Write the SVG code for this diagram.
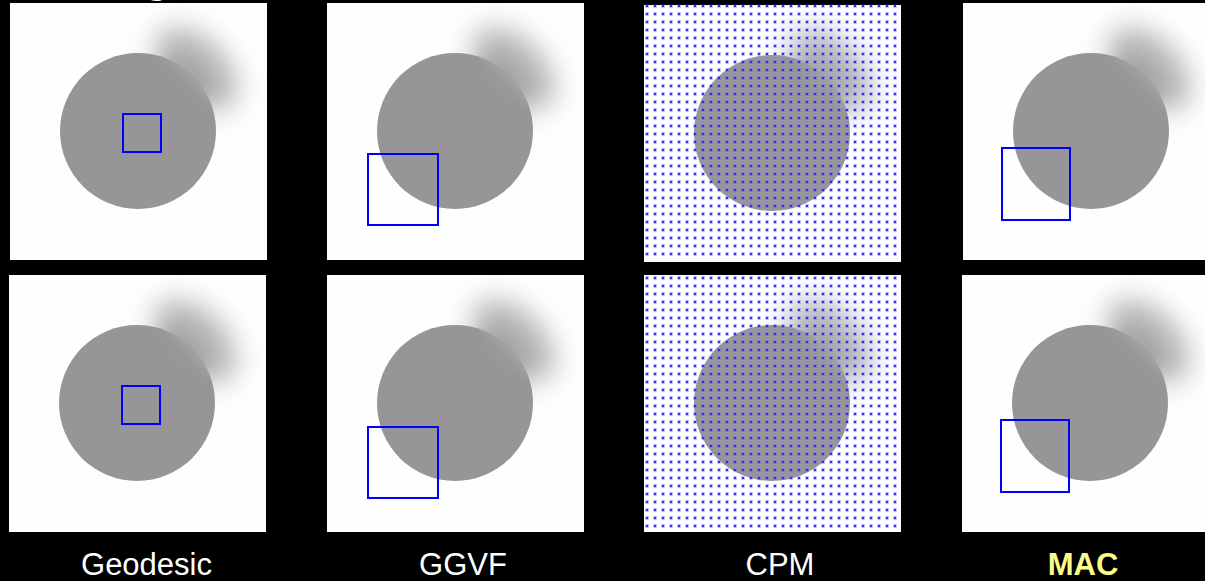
<svg xmlns="http://www.w3.org/2000/svg" xmlns:xlink="http://www.w3.org/1999/xlink" width="1205" height="581" viewBox="0 0 1205 581">
  <style>
    .label { font-family: "Liberation Sans", Arial, sans-serif; font-size: 31px; fill: #ffffff; text-anchor: middle; }
    .hl { font-weight: bold; fill: #fbfb8c; }
    .box { fill: none; stroke: #0000ff; stroke-width: 2; }
    .sheet { fill: #fdfefd; }
    .disk { fill: #979597; }
  </style>
  <defs>
    <filter id="soft" x="-1" y="-1" width="3" height="3">
      <feGaussianBlur stdDeviation="14"/>
    </filter>
    <filter id="softEdge" x="-1" y="-1" width="3" height="3">
      <feGaussianBlur stdDeviation="8"/>
    </filter>
    <!-- fades the crisp disk edge out toward the upper right -->
    <mask id="fadeMask" maskUnits="userSpaceOnUse" x="0" y="0" width="257" height="257">
      <rect width="257" height="257" fill="#fff"/>
      <ellipse cx="200" cy="54" rx="48" ry="30" transform="rotate(45 200 54)" fill="#000" filter="url(#softEdge)"/>
    </mask>
    <!-- 8px grid of blue sample points -->
    <pattern id="dots" patternUnits="userSpaceOnUse" x="9" y="9" width="8" height="8">
      <rect x="0" y="0" width="4" height="4" fill="#4a4aff" opacity="0.3"/>
      <rect x="1" y="1" width="2" height="2" fill="#2a2aff"/>
    </pattern>
    <!-- one image tile: disk with a diffuse smear at its upper right -->
    <g id="cell">
      <rect class="sheet" width="257" height="257"/>
      <circle class="disk" cx="128" cy="128" r="78" mask="url(#fadeMask)"/>
      <ellipse cx="186" cy="66" rx="50" ry="30" transform="rotate(45 186 66)" fill="#9a989a" opacity="0.75" filter="url(#soft)"/>
      <ellipse cx="172" cy="80" rx="30" ry="20" transform="rotate(45 172 80)" fill="#979597" opacity="0.6" filter="url(#softEdge)"/>
    </g>
  </defs>

  <rect width="1205" height="581" fill="#000"/>

  <!-- heading descender peeking above the tiles -->
  <text x="157" y="-7" font-family="Liberation Sans, Arial, sans-serif" font-weight="bold" font-size="40" fill="#fff" text-anchor="middle">g</text>

  <g id="geodesic-top" transform="translate(10 3)">
    <use href="#cell"/>
    <rect class="box" x="113" y="111" width="38" height="38"/>
  </g>
  <g id="ggvf-top" transform="translate(327 3)">
    <use href="#cell"/>
    <rect class="box" x="41" y="151" width="70" height="71"/>
  </g>
  <g id="cpm-top" transform="translate(644 3)">
    <use href="#cell" transform="translate(0 2)"/>
    <rect width="257" height="257" fill="url(#dots)"/>
  </g>
  <g id="mac-top" transform="translate(963 3)">
    <use href="#cell"/>
    <rect class="box" x="39" y="145" width="68" height="72"/>
  </g>

  <g id="geodesic-bottom" transform="translate(9 275)">
    <use href="#cell"/>
    <rect class="box" x="113" y="111" width="38" height="38"/>
  </g>
  <g id="ggvf-bottom" transform="translate(327 275)">
    <use href="#cell"/>
    <rect class="box" x="41" y="152" width="70" height="71"/>
  </g>
  <g id="cpm-bottom" transform="translate(644 275)">
    <use href="#cell"/>
    <rect width="257" height="257" fill="url(#dots)"/>
  </g>
  <g id="mac-bottom" transform="translate(962 275)">
    <use href="#cell"/>
    <rect class="box" x="39" y="145" width="68" height="72"/>
  </g>

  <g id="labels">
    <text class="label" x="146.5" y="575">Geodesic</text>
    <text class="label" x="463" y="575">GGVF</text>
    <text class="label" x="780" y="575">CPM</text>
    <text class="label hl" x="1083" y="575">MAC</text>
  </g>
</svg>
